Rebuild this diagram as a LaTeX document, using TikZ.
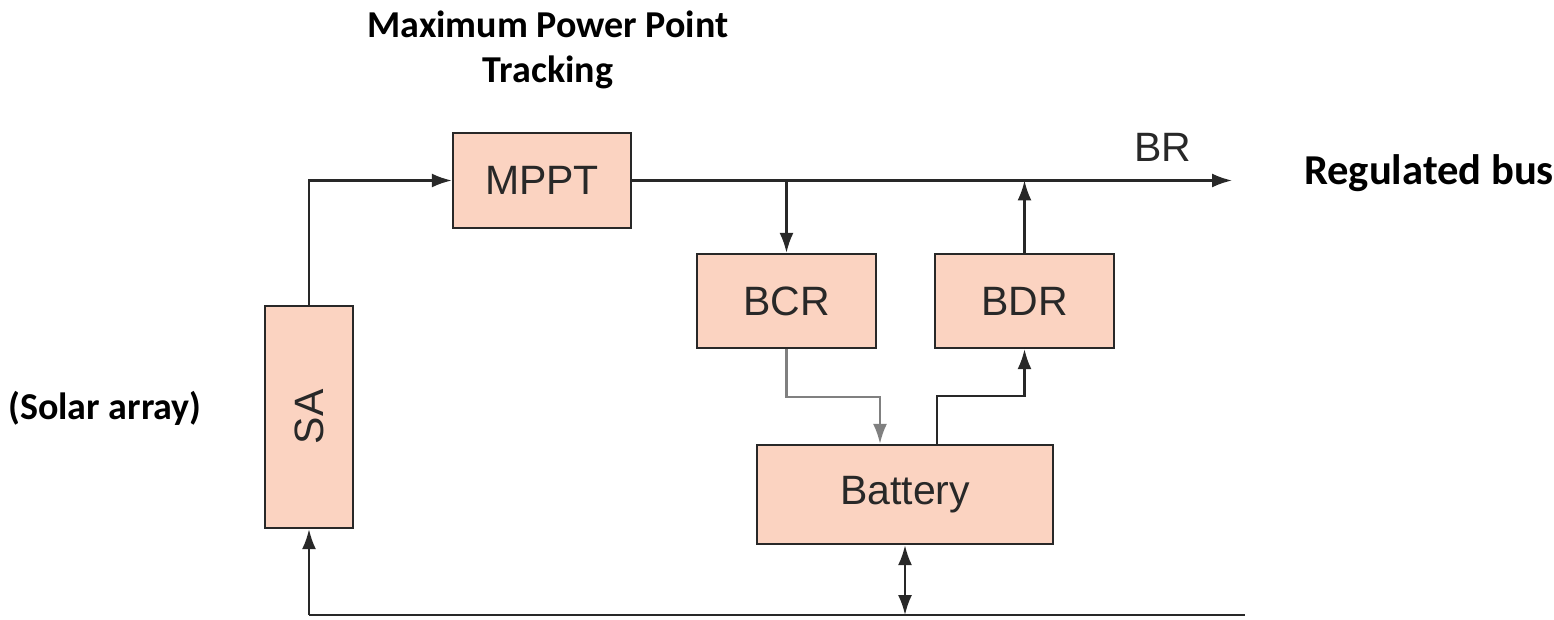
\documentclass[tikz,border=0pt]{standalone}
\usepackage{fontspec}
\setmainfont{Liberation Sans}
\newfontfamily\calibri{Carlito}
\usepackage{xcolor}
\usetikzlibrary{positioning, arrows.meta, calc}

\definecolor{blockfill}{RGB}{251,211,193}
\definecolor{inkgray}{RGB}{40,40,40}

\begin{document}
\begin{tikzpicture}[
  x=0.5pt, y=-0.5pt,
  every node/.style={font=\fontsize{20.5}{24}\selectfont, text=inkgray},
  block/.style={
    rectangle, draw=inkgray, line width=1.2pt,
    fill=blockfill, inner sep=0pt,
  },
  note/.style={font=\calibri\bfseries\fontsize{19}{22.5}\selectfont, text=black, align=center},
  wire/.style={line width=1.1pt, draw=inkgray},
  arr/.style={wire, -{Latex[length=10pt,width=7pt]}},
  darr/.style={wire, {Latex[length=10pt,width=7pt]}-{Latex[length=10pt,width=7pt]}},
]
\useasboundingbox (0,0) rectangle (1554,620);

% ---- Blocks ----
\node[block, minimum width=89pt, minimum height=47.5pt] (mppt) at (542,180.5) {MPPT};
\node[block, minimum width=44pt, minimum height=111pt] (sa) at (309,417) {\rotatebox{90}{SA}};
\node[block, minimum width=89.5pt, minimum height=47pt] (bcr) at (786.5,301) {BCR};
\node[block, minimum width=89.5pt, minimum height=47pt] (bdr) at (1024.5,301) {BDR};
\node[block, minimum width=148pt, minimum height=49.5pt] (battery) at (905,494.5) {Battery};

% ---- Labels ----
\node[note] (mpptlbl) at (548,50) {Maximum Power Point\\Tracking};
\node[note] (salbl) at (105,408) {(Solar array)};
\node[note, anchor=west, font=\calibri\bfseries\fontsize{21.3}{25}\selectfont] (buslbl) at (1297,173) {Regulated bus};
\node (br) at (1163,147) {BR};

% ---- Free ends ----
\coordinate (busend) at (1232,180.5);
\coordinate (gndL) at (309,615);
\coordinate (gndR) at (1245,615);

% ---- Power path ----
\draw[arr] (sa.north) |- (mppt.west);
\draw[arr] (mppt.east) -- (busend);
\draw[arr] (bcr.north |- mppt.east) -- (bcr.north);
\draw[arr] (bdr.north) -- (bdr.north |- mppt.east);

% ---- Battery charge / discharge ----
\draw[arr, draw=gray] (bcr.south) -- ++(0,48) -| ($(battery.north)+(-25,0)$);
\draw[arr] ($(battery.north)+(32,0)$) |- ($(bdr.south)+(0,47)$) -- (bdr.south);

% ---- Return line ----
\draw[wire] (gndL) -- (gndR);
\draw[arr] (gndL) -- (sa.south);
\draw[darr] (battery.south) -- (battery.south |- gndL);

\end{tikzpicture}
\end{document}
